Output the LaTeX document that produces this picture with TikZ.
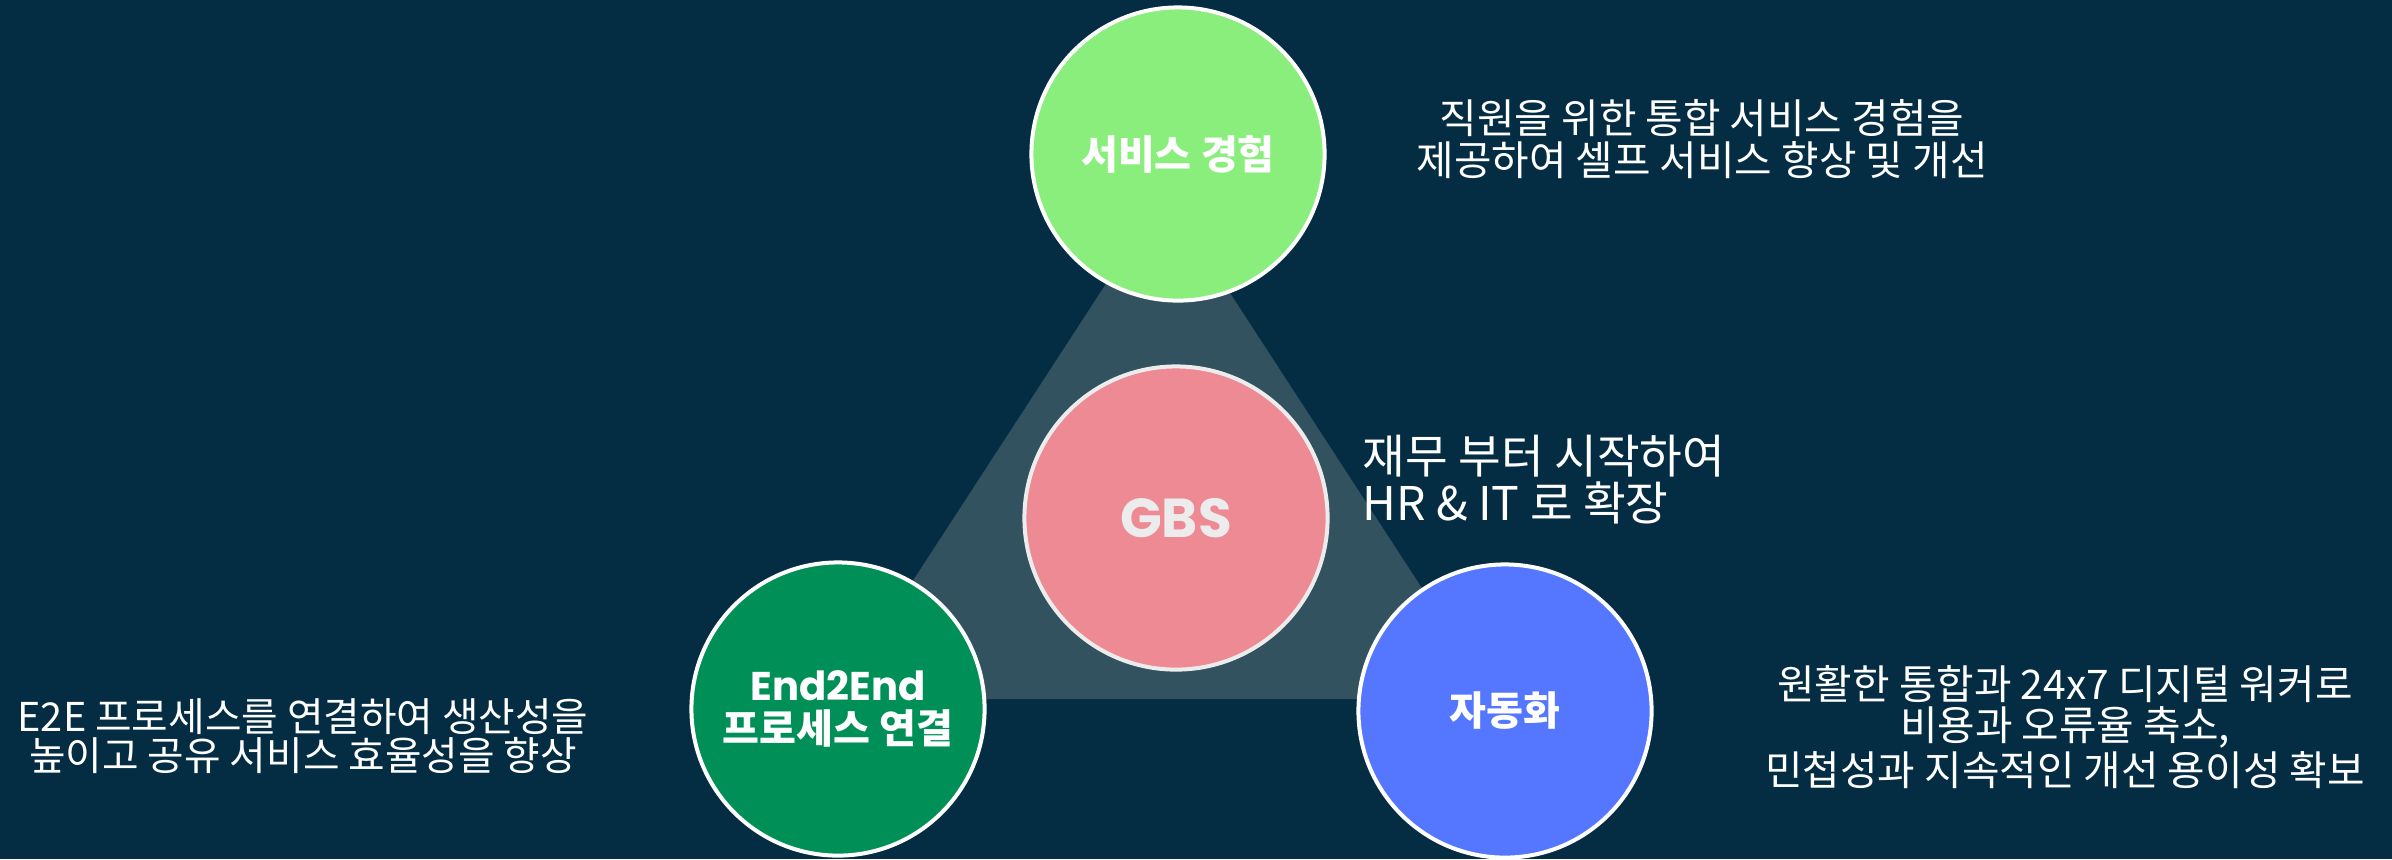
\documentclass[tikz,border=0pt]{standalone}
\usepackage{fontspec}
\setmainfont{Noto Sans CJK KR}
\newfontfamily\pop{Poppins}
\definecolor{bgc}{RGB}{4,45,67}
\definecolor{tric}{RGB}{51,82,96}
\definecolor{lgreen}{RGB}{138,238,124}
\definecolor{pinkc}{RGB}{238,138,148}
\definecolor{dgreen}{RGB}{0,144,87}
\definecolor{bluec}{RGB}{85,119,255}
\definecolor{greyc}{RGB}{236,236,236}
\tikzset{
  bubble/.style={circle, draw=white, line width=0.04cm, minimum size=2.93cm, inner sep=0pt, text=white, align=center},
  desc/.style={text=white, inner sep=0pt, align=center},
}
\begin{document}
\begin{tikzpicture}[x=0.01cm,y=-0.01cm]
\useasboundingbox (0,0) rectangle (2392,859);
\fill[bgc] (0,0) rectangle (2392,859);
\fill[tric] (1165,193) -- (836,699) -- (1494,699) -- cycle;
\node[bubble, fill=lgreen, font=\bfseries\fontsize{11.4}{12}\selectfont] (svc) at (1178,154) {서비스 경험};
\node[bubble, fill=pinkc, draw=greyc, text=greyc, minimum size=3.03cm, font=\pop\bfseries\fontsize{15.6}{17}\selectfont] (gbs) at (1176,518) {GBS};
\node[bubble, fill=dgreen, font=\bfseries\fontsize{11.4}{12.3}\selectfont] (e2e) at (838,709) {{\pop End2End}\\프로세스 연결};
\node[bubble, fill=bluec, font=\bfseries\fontsize{11.4}{12}\selectfont] (auto) at (1505,711) {자동화};
\node[desc, font=\fontsize{11.6}{11.95}\selectfont] (t1) at (1702,139) {직원을 위한 통합 서비스 경험을\\제공하여 셀프 서비스 향상 및 개선};
\node[desc, align=left, anchor=west, font=\fontsize{13.2}{13.4}\selectfont] (t2) at (1362,480) {재무 부터 시작하여\\HR \& IT 로 확장};
\node[desc, font=\fontsize{11.3}{11.0}\selectfont] (t3) at (303,736) {E2E 프로세스를 연결하여 생산성을\\높이고 공유 서비스 효율성을 향상};
\node[desc, font=\fontsize{11.6}{11.5}\selectfont] (t4) at (2065,727) {원활한 통합과 24x7 디지털 워커로\\비용과 오류율 축소,\\민첩성과 지속적인 개선 용이성 확보};
\end{tikzpicture}
\end{document}
